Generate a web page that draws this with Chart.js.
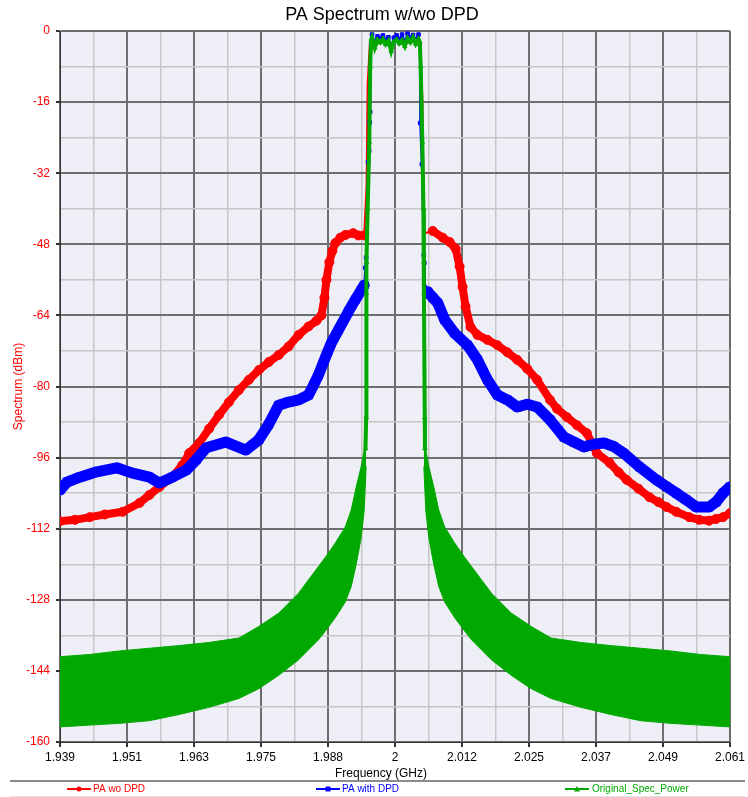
<!DOCTYPE html>
<html><head><meta charset="utf-8">
<script src="https://cdn.jsdelivr.net/npm/chart.js@4/dist/chart.umd.min.js"></script>
<style>html,body{margin:0;padding:0;background:#fff}canvas{display:block}</style>
</head><body>
<canvas id="c" width="748" height="797"></canvas>
<script>
// ---------- DATA ----------
const xTickLabels = ['1.939','1.951','1.963','1.975','1.988','2','2.012','2.025','2.037','2.049','2.061'];
const xMin = 1.93875, xMax = 2.06125;
const yMin = -160, yMax = 0;

const inbandFreq = [1.9958,1.9963,1.9968,1.9973,1.9978,1.9983,1.9988,1.9993,1.9998,2.0003,2.0008,2.0013,2.0018,2.0023,2.0028,2.0033,2.0038,2.0043];

// PA wo DPD (red)
const redFreqL = [1.93875,1.94148,1.94420,1.94693,1.95020,1.95329,1.95511,1.95693,1.95929,1.96110,1.96238,1.96420,1.96601,1.96783,1.96965,1.97147,1.97328,1.97510,1.97692,1.97874,1.98055,1.98237,1.98419,1.98564,1.98655,1.98710,1.98746,1.98800,1.98855,1.98910,1.99001,1.99091,1.99237,1.99328,1.99437,1.99480,1.99500,1.99540];
const redPowL  = [-110.3,-110,-109.4,-108.8,-108.2,-106.2,-104.4,-102.6,-100.4,-97.7,-95,-92.7,-89.5,-86.4,-83.5,-80.8,-78.5,-76.3,-74.5,-72.9,-71,-68.4,-66.5,-65.2,-64,-60,-56,-52,-49.5,-47.7,-46.5,-45.9,-45.5,-46,-46,-35,-12,-3];
const redInband = [-2.0,-3.2,-2.2,-2.8,-2.0,-3.0,-2.4,-4.0,-2.6,-2.1,-2.9,-2.3,-3.3,-1.9,-2.7,-1.8,-3.0,-2.2];
const redFreqR = [2.00460,2.00500,2.00525,2.00545,2.00691,2.00872,2.01000,2.01109,2.01181,2.01236,2.01290,2.01381,2.01509,2.01690,2.01872,2.02054,2.02236,2.02417,2.02599,2.02835,2.02963,2.03144,2.03326,2.03508,2.03690,2.03926,2.04089,2.04235,2.04453,2.04653,2.04816,2.04962,2.05144,2.05380,2.05562,2.05743,2.05871,2.05998,2.06125];
const redPowR  = [-3,-15,-40,-45.5,-45,-46.5,-47.5,-49,-53,-57.6,-62,-66.6,-68.4,-69.5,-70.7,-72.3,-74,-76,-78.5,-83,-85,-86.9,-88.7,-90.5,-95,-97.2,-99.3,-101,-103,-104.9,-106,-107.1,-108.2,-109.4,-110,-110.2,-109.8,-109.4,-108.5];

// PA with DPD (blue)
const blueFreqL = [1.93875,1.94002,1.94239,1.94547,1.94911,1.95202,1.95511,1.95693,1.95929,1.96183,1.96365,1.96547,1.96910,1.97274,1.97510,1.97692,1.97874,1.98055,1.98237,1.98419,1.98510,1.98601,1.98710,1.98837,1.98964,1.99146,1.99273,1.99382,1.99437,1.99455,1.99473,1.99509,1.99527,1.99536,1.99546,1.99564];
const bluePowL  = [-103.3,-101.5,-100.4,-99.2,-98.3,-99.5,-100.4,-101.7,-100.4,-98.8,-96.5,-93.8,-92.5,-94.3,-92,-88.5,-84.2,-83.5,-83,-81.9,-79.7,-77.4,-74,-70.2,-67.3,-63.2,-60.5,-58.3,-57.2,-53.3,-51,-29.5,-27,-20.6,-18.2,-3];
const blueInband = [-0.8,-2.5,-1.2,-1.6,-1.0,-2.0,-1.4,-3.5,-1.5,-1.0,-1.8,-0.8,-2.4,-0.6,-1.5,-0.9,-1.9,-0.8];
const blueFreqR = [2.00454,2.00460,2.00491,2.00527,2.00536,2.00545,2.00600,2.00691,2.00782,2.00909,2.01090,2.01327,2.01509,2.01690,2.01872,2.02054,2.02236,2.02417,2.02599,2.02835,2.03090,2.03271,2.03453,2.03635,2.03817,2.03998,2.04180,2.04471,2.04780,2.04962,2.05144,2.05325,2.05507,2.05743,2.05871,2.05998,2.06125];
const bluePowR  = [-3,-20.7,-30,-50.4,-52.2,-57.6,-58.7,-60,-61.2,-65,-68,-70.7,-74,-78.5,-81.9,-83,-84.6,-84,-84.6,-87.5,-91.4,-92.5,-93.6,-93,-92.7,-93.5,-95,-98.1,-101,-102.5,-104,-105.5,-107.1,-107.1,-106,-104,-102.6];

// Original_Spec_Power (green): main-lobe line
const greenFreqL = [1.99460,1.99473,1.99475,1.99480,1.99500,1.99530,1.99546,1.99564];
const greenPowL  = [-94,-87,-59,-52,-40,-25,-8,-2];
const greenInband = [-1.5,-3.8,-2.0,-2.6,-1.8,-3.0,-2.2,-4.5,-2.4,-1.9,-2.8,-2.1,-3.4,-1.6,-2.5,-1.4,-2.9,-1.8];
const greenFreqR = [2.00454,2.00470,2.00500,2.00520,2.00527,2.00530,2.00545,2.00548];
const greenPowR  = [-2.5,-8,-25,-40,-52,-59,-87,-94];

// Original_Spec_Power (green): side-lobe envelopes (upper/lower) of the dense oscillation
const envFreqL  = [1.93875,1.94420,1.94966,1.95511,1.96056,1.96601,1.97147,1.97510,1.97874,1.98237,1.98601,1.98728,1.98910,1.99091,1.99200,1.99291,1.99382,1.99436,1.99473];
const envUpperL = [-140.8,-140.3,-139.5,-138.9,-138.3,-137.6,-136.6,-134,-131,-126.5,-120.5,-118.4,-115.2,-111.6,-107.8,-102.6,-98,-94.3,-94];
const envLowerL = [-156.6,-156.2,-155.8,-155.2,-153.8,-152.2,-150.2,-148,-145,-141.5,-137,-135,-132,-128.5,-125,-120,-114,-108,-98];
const envFreqR  = [2.00527,2.00564,2.00618,2.00709,2.00800,2.00909,2.01090,2.01272,2.01399,2.01763,2.02126,2.02490,2.02853,2.03399,2.03944,2.04489,2.05034,2.05580,2.06125];
const envUpperR = [-94,-94.3,-98,-102.6,-107.8,-111.6,-115.2,-118.4,-120.5,-126.5,-131,-134,-136.6,-137.6,-138.3,-138.9,-139.5,-140.3,-140.8];
const envLowerR = [-98,-108,-114,-120,-125,-128.5,-132,-135,-137,-141.5,-145,-148,-150.2,-152.2,-153.8,-155.2,-155.8,-156.2,-156.6];

// ---------- BUILD ----------
const RED = '#ff0000', BLUE = '#0000ff', GREEN = '#00a800';
const FONT = '"Liberation Sans", Arial, sans-serif';
const pts = (xs, ys) => xs.map((x, i) => ({x: x, y: ys[i]}));
const inEdge = x => x > 1.9944 && x < 2.0056;
const thinSeg = (w1, w2) => c => (inEdge(c.p0.parsed.x) || inEdge(c.p1.parsed.x)) ? w1 : w2;

const redData = pts([...redFreqL, ...inbandFreq, ...redFreqR], [...redPowL, ...redInband, ...redPowR]);
const blueData = pts([...blueFreqL, ...inbandFreq, ...blueFreqR], [...bluePowL, ...blueInband, ...bluePowR]);
const greenData = pts([...greenFreqL, ...inbandFreq, ...greenFreqR], [...greenPowL, ...greenInband, ...greenPowR]);

const bgPlugin = {
  id: 'bg',
  beforeDraw(chart) {
    const {ctx, chartArea: a} = chart;
    ctx.save();
    ctx.fillStyle = '#ffffff';
    ctx.fillRect(0, 0, chart.width, chart.height);
    ctx.fillStyle = '#eeeef6';
    ctx.fillRect(a.left, a.top, a.right - a.left, a.bottom - a.top);
    ctx.restore();
  }
};

function marker(ctx, style, x, y, color) {
  ctx.fillStyle = color;
  ctx.beginPath();
  if (style === 'circle') { ctx.arc(x, y, 2.5, 0, Math.PI * 2); }
  else if (style === 'rect') { ctx.rect(x - 2.5, y - 2.5, 5, 5); }
  else { ctx.moveTo(x, y - 3); ctx.lineTo(x + 3, y + 2.5); ctx.lineTo(x - 3, y + 2.5); ctx.closePath(); }
  ctx.fill();
}

const textPlugin = {
  id: 'texts',
  afterDraw(chart) {
    const ctx = chart.ctx;
    ctx.save();
    ctx.textBaseline = 'middle';
    ctx.textAlign = 'center';
    ctx.fillStyle = '#000';
    ctx.font = '18px ' + FONT;
    ctx.fillText('PA Spectrum w/wo DPD', 382, 15);
    ctx.font = '12px ' + FONT;
    ctx.fillText('Frequency (GHz)', 381, 774);
    // separator
    ctx.strokeStyle = '#8c8c8c'; ctx.lineWidth = 2;
    ctx.beginPath(); ctx.moveTo(10, 781); ctx.lineTo(745, 781); ctx.stroke();
    ctx.strokeStyle = '#e2e2e2'; ctx.lineWidth = 1;
    ctx.beginPath(); ctx.moveTo(10, 796.5); ctx.lineTo(745, 796.5); ctx.stroke();
    // legend
    const items = [
      {t: 'PA wo DPD', c: RED, s: 'circle', x1: 67, x2: 91, tx: 93},
      {t: 'PA with DPD', c: BLUE, s: 'rect', x1: 316, x2: 340, tx: 342},
      {t: 'Original_Spec_Power', c: GREEN, s: 'triangle', x1: 565, x2: 589, tx: 592}
    ];
    ctx.font = '10px ' + FONT;
    ctx.textAlign = 'left';
    items.forEach(it => {
      const y = 789;
      ctx.strokeStyle = it.c; ctx.lineWidth = 2;
      ctx.beginPath(); ctx.moveTo(it.x1, y); ctx.lineTo(it.x2, y); ctx.stroke();
      marker(ctx, it.s, (it.x1 + it.x2) / 2, y, it.c);
      ctx.fillStyle = it.c;
      ctx.fillText(it.t, it.tx, y);
    });
    ctx.restore();
  }
};

const MAJ = '#6e6e6e', MIN = '#c6c6c6';

new Chart(document.getElementById('c'), {
  type: 'line',
  data: {
    datasets: [
      {label: 'Original_Spec_Power', data: greenData, borderColor: GREEN, backgroundColor: GREEN,
       pointBackgroundColor: GREEN, pointBorderColor: GREEN, pointBorderWidth: 1, borderWidth: 4,
       pointStyle: 'triangle', pointRadius: 2.5, order: 1},
      {label: 'envUL', data: pts(envFreqL, envUpperL), borderColor: GREEN, borderWidth: 1, pointRadius: 0, fill: false, order: 2},
      {label: 'envLL', data: pts(envFreqL, envLowerL), borderColor: GREEN, backgroundColor: GREEN, borderWidth: 1, pointRadius: 0, fill: '-1', order: 2},
      {label: 'envUR', data: pts(envFreqR, envUpperR), borderColor: GREEN, borderWidth: 1, pointRadius: 0, fill: false, order: 2},
      {label: 'envLR', data: pts(envFreqR, envLowerR), borderColor: GREEN, backgroundColor: GREEN, borderWidth: 1, pointRadius: 0, fill: '-1', order: 2},
      {label: 'PA with DPD', data: blueData, borderColor: BLUE, backgroundColor: BLUE,
       pointBackgroundColor: BLUE, pointBorderColor: BLUE, pointBorderWidth: 1, borderWidth: 11,
       pointStyle: 'rect', pointRadius: c => (c.raw && inEdge(c.raw.x) ? 2.5 : 5.5),
       borderJoinStyle: 'round', borderCapStyle: 'round', segment: {borderWidth: thinSeg(2, 11)}, order: 3},
      {label: 'PA wo DPD', data: redData, borderColor: RED, backgroundColor: RED,
       pointBackgroundColor: RED, pointBorderColor: RED, pointBorderWidth: 1, borderWidth: 8,
       pointStyle: 'circle', pointRadius: c => (c.raw && inEdge(c.raw.x) ? 0 : 4.5),
       borderJoinStyle: 'round', borderCapStyle: 'round', segment: {borderWidth: thinSeg(2, 8)}, order: 4}
    ]
  },
  options: {
    responsive: false,
    animation: false,
    layout: {padding: {top: 31, right: 14, bottom: 16, left: 0}},
    plugins: {legend: {display: false}, title: {display: false}, tooltip: {enabled: false}},
    scales: {
      x: {
        type: 'linear', min: xMin, max: xMax,
        ticks: {count: 21, autoSkip: false, maxRotation: 0, padding: 3, color: '#000',
                font: {family: FONT, size: 12},
                callback: (v, i) => (i % 2 === 0 ? xTickLabels[i / 2] : '')},
        grid: {color: c => (c.index % 2 === 0 ? MAJ : MIN), lineWidth: c => (c.index % 2 === 0 ? 2 : 1.5),
               tickLength: 5, tickColor: c => (c.index % 2 === 0 ? '#333' : 'rgba(0,0,0,0)')},
        border: {display: true, color: '#333', width: 1},
        afterFit: s => { s.height = 39; }
      },
      y: {
        min: yMin, max: yMax,
        ticks: {count: 21, autoSkip: false, padding: 6, color: RED, font: {family: FONT, size: 12},
                callback: (v, i) => (i % 2 === 0 ? String(Math.round(v)) : '')},
        grid: {color: c => (c.index % 2 === 0 ? MAJ : MIN), lineWidth: c => (c.index % 2 === 0 ? 2 : 1.5),
               tickLength: 4, tickColor: c => (c.index % 2 === 0 ? '#333' : 'rgba(0,0,0,0)')},
        border: {display: true, color: '#333', width: 1},
        title: {display: true, text: 'Spectrum (dBm)', color: RED, font: {family: FONT, size: 12}, padding: {top: 11, bottom: 0}},
        afterFit: s => { s.width = 60; }
      }
    }
  },
  plugins: [bgPlugin, textPlugin]
});
</script>
</body></html>
